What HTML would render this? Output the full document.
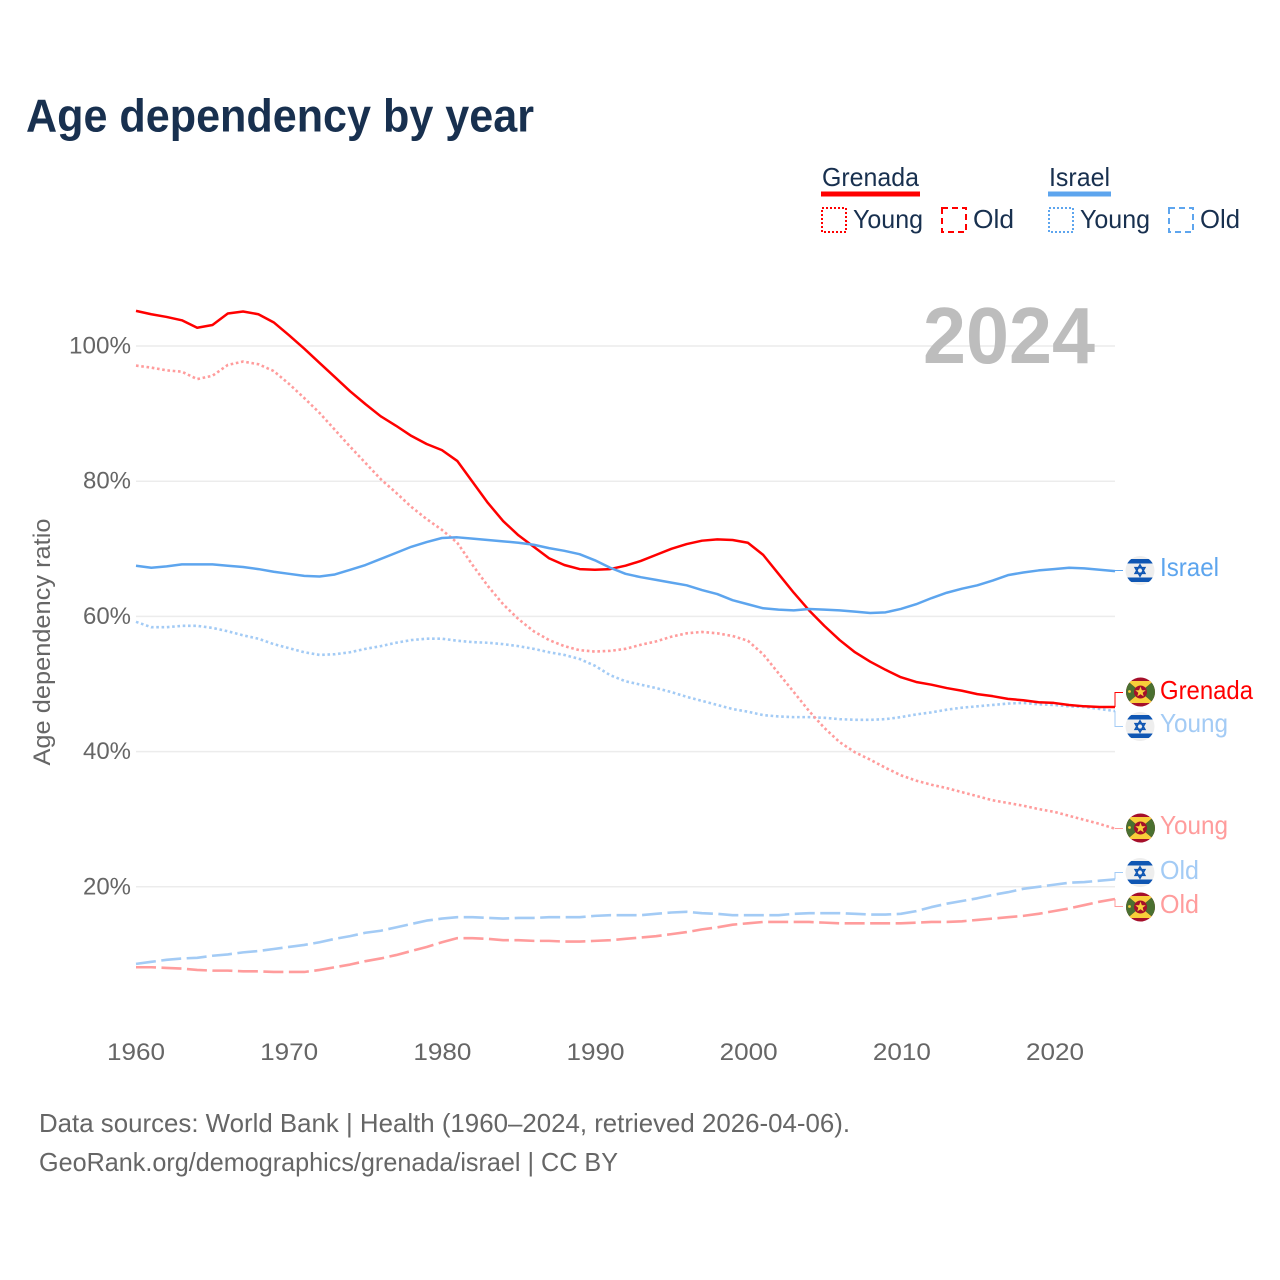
<!DOCTYPE html>
<html lang="en">
<head>
<meta charset="utf-8">
<title>Age dependency by year</title>
<style>
html,body{margin:0;padding:0;background:#fff;}
svg{display:block;font-family:"Liberation Sans",sans-serif;}
</style>
</head>
<body>
<svg id="chart" width="1280" height="1280" viewBox="0 0 1280 1280" xmlns="http://www.w3.org/2000/svg">
<defs>
<clipPath id="flagclip"><circle cx="0" cy="0" r="14.5"/></clipPath>
<symbol id="flag-il" overflow="visible" viewBox="-15 -15 30 30">
<g clip-path="url(#flagclip)">
<rect x="-15" y="-15" width="30" height="30" fill="#eeeeee"/>
<rect x="-15" y="-11.5" width="30" height="4.5" fill="#0f56b3"/>
<rect x="-15" y="7" width="30" height="4.5" fill="#0f56b3"/>
<polygon points="0,-5.6 4.8,2.8 -4.8,2.8" fill="none" stroke="#0f56b3" stroke-width="1.6"/>
<polygon points="0,5.6 4.8,-2.8 -4.8,-2.8" fill="none" stroke="#0f56b3" stroke-width="1.6"/>
</g>
</symbol>
<symbol id="flag-gd" overflow="visible" viewBox="-15 -15 30 30">
<g clip-path="url(#flagclip)">
<rect x="-15" y="-15" width="30" height="30" fill="#a50f2a"/>
<polygon points="-13,-11 13,-11 0,0" fill="#f8cf3a"/>
<polygon points="-13,11 13,11 0,0" fill="#f8cf3a"/>
<polygon points="-15,-11 -13,-11 0,0 -13,11 -15,11" fill="#4a7030"/>
<polygon points="15,-11 13,-11 0,0 13,11 15,11" fill="#4a7030"/>
<circle cx="0" cy="0" r="6.5" fill="#a50f2a"/>
<polygon points="0,-5.4 1.4,-1.8 5.2,-1.7 2.2,0.7 3.2,4.4 0,2.3 -3.2,4.4 -2.2,0.7 -5.2,-1.7 -1.4,-1.8" fill="#f8cf3a"/>
<circle cx="-11" cy="-0.5" r="1.4" fill="#f8cf3a"/>
</g>
</symbol>
</defs>

<text x="26" y="131.5" font-size="46" font-weight="700" fill="#18304f" textLength="508" lengthAdjust="spacingAndGlyphs">Age dependency by year</text>

<g id="grid"></g>
<g id="yticks"></g>
<g id="xticks"></g>
<text transform="translate(50,642) rotate(-90)" text-anchor="middle" font-size="24" fill="#666666" textLength="247" lengthAdjust="spacingAndGlyphs">Age dependency ratio</text>

<text x="923" y="363" font-size="80" font-weight="700" fill="#bdbdbd" textLength="172" lengthAdjust="spacingAndGlyphs">2024</text>

<g id="connectors"></g>
<g id="lines"></g>

<g>
<use href="#flag-il" x="1125" y="555.5" width="30" height="30"/>
<text x="1160" y="576" font-size="26" fill="#5da5ee" textLength="59" lengthAdjust="spacingAndGlyphs">Israel</text>
<use href="#flag-gd" x="1125.5" y="677" width="30" height="30"/>
<text x="1160" y="699" font-size="26" fill="#ff0000" textLength="93" lengthAdjust="spacingAndGlyphs">Grenada</text>
<use href="#flag-il" x="1125" y="711.5" width="30" height="30"/>
<text x="1160" y="732" font-size="26" fill="#a3cbf5" textLength="68" lengthAdjust="spacingAndGlyphs">Young</text>
<use href="#flag-gd" x="1125.5" y="813" width="30" height="30"/>
<text x="1160" y="834" font-size="26" fill="#ff9c9c" textLength="68" lengthAdjust="spacingAndGlyphs">Young</text>
<use href="#flag-il" x="1125" y="857.5" width="30" height="30"/>
<text x="1160" y="879" font-size="26" fill="#a3cbf5" textLength="39" lengthAdjust="spacingAndGlyphs">Old</text>
<use href="#flag-gd" x="1125.5" y="892" width="30" height="30"/>
<text x="1160" y="913" font-size="26" fill="#ff9c9c" textLength="39" lengthAdjust="spacingAndGlyphs">Old</text>
</g>

<g font-size="26" fill="#18304f">
<text x="822" y="186" textLength="97" lengthAdjust="spacingAndGlyphs">Grenada</text>
<rect x="821" y="191.5" width="99" height="5" fill="#ff0000"/>
<text x="1049" y="186" textLength="61" lengthAdjust="spacingAndGlyphs">Israel</text>
<rect x="1048" y="191.5" width="63" height="5" fill="#5da5ee"/>
<rect x="822" y="208" width="24" height="24" fill="none" stroke="#ff0000" stroke-width="2" stroke-dasharray="2 2"/>
<text x="853" y="228" textLength="70" lengthAdjust="spacingAndGlyphs">Young</text>
<rect x="942" y="208" width="24" height="24" fill="none" stroke="#ff0000" stroke-width="2" stroke-dasharray="6 4"/>
<text x="973" y="228" textLength="41" lengthAdjust="spacingAndGlyphs">Old</text>
<rect x="1049" y="208" width="24" height="24" fill="none" stroke="#5da5ee" stroke-width="2" stroke-dasharray="2 2"/>
<text x="1080" y="228" textLength="70" lengthAdjust="spacingAndGlyphs">Young</text>
<rect x="1169" y="208" width="24" height="24" fill="none" stroke="#5da5ee" stroke-width="2" stroke-dasharray="6 4"/>
<text x="1200" y="228" textLength="40" lengthAdjust="spacingAndGlyphs">Old</text>
</g>

<text x="39" y="1132" font-size="26" fill="#666666" textLength="811" lengthAdjust="spacingAndGlyphs">Data sources: World Bank | Health (1960–2024, retrieved 2026-04-06).</text>
<text x="39" y="1171" font-size="26" fill="#666666" textLength="579" lengthAdjust="spacingAndGlyphs">GeoRank.org/demographics/grenada/israel | CC BY</text>

<script>
var startYear = 1960;
var xTickYears = [1960, 1970, 1980, 1990, 2000, 2010, 2020];
var yTickValues = [20, 40, 60, 80, 100];

var grenadaTotal = [105.2,104.7,104.3,103.8,102.7,103.1,104.8,105.1,104.7,103.5,101.6,99.6,97.5,95.4,93.3,91.4,89.6,88.2,86.7,85.5,84.6,83,79.9,76.8,74.1,72,70.3,68.6,67.6,67,66.9,67,67.5,68.2,69.1,70,70.7,71.2,71.4,71.3,70.9,69.1,66.3,63.5,60.9,58.6,56.5,54.7,53.3,52.1,51,50.3,49.9,49.4,49,48.5,48.2,47.8,47.6,47.3,47.2,46.9,46.7,46.6,46.6];
var israelTotal = [67.5,67.2,67.4,67.7,67.7,67.7,67.5,67.3,67,66.6,66.3,66,65.9,66.2,66.9,67.6,68.5,69.4,70.3,71,71.6,71.7,71.5,71.3,71.1,70.9,70.6,70.1,69.7,69.2,68.3,67.2,66.3,65.8,65.4,65,64.6,63.9,63.3,62.4,61.8,61.2,61,60.9,61.1,61,60.9,60.7,60.5,60.6,61.1,61.8,62.7,63.5,64.1,64.6,65.3,66.1,66.5,66.8,67,67.2,67.1,66.9,66.7];
var grenadaYoung = [97.1,96.8,96.4,96.2,95.1,95.6,97.2,97.7,97.3,96.3,94.4,92.3,90.1,87.6,85.1,82.7,80.3,78.3,76.2,74.4,72.8,70.9,67.6,64.5,61.8,59.6,57.8,56.5,55.6,55,54.8,54.9,55.2,55.8,56.3,57,57.5,57.7,57.5,57.1,56.4,54.4,51.6,48.8,46,43.5,41.4,39.9,38.8,37.6,36.5,35.7,35.1,34.6,34,33.4,32.8,32.4,32,31.5,31.1,30.5,29.9,29.3,28.6];
var israelYoung = [59.2,58.4,58.4,58.6,58.6,58.3,57.8,57.2,56.7,55.9,55.3,54.7,54.3,54.4,54.7,55.2,55.6,56.1,56.5,56.7,56.7,56.4,56.2,56.1,55.9,55.6,55.2,54.7,54.3,53.7,52.7,51.3,50.4,49.9,49.4,48.8,48.1,47.5,46.9,46.3,45.9,45.4,45.2,45.1,45.1,45,44.8,44.7,44.7,44.8,45.1,45.5,45.8,46.2,46.5,46.7,46.9,47.1,47.2,47,46.9,46.7,46.6,46.3,46];
var israelOld = [8.6,8.9,9.2,9.4,9.5,9.8,10,10.3,10.5,10.8,11.1,11.4,11.8,12.3,12.7,13.2,13.5,14,14.5,15,15.3,15.5,15.5,15.4,15.3,15.4,15.4,15.5,15.5,15.5,15.7,15.8,15.8,15.8,16,16.2,16.3,16.1,16,15.8,15.8,15.8,15.8,16,16.1,16.1,16.1,16,15.9,15.9,16,16.4,17,17.5,17.9,18.3,18.8,19.2,19.7,20,20.3,20.6,20.7,20.9,21.1];
var grenadaOld = [8.1,8.1,8,7.9,7.7,7.6,7.6,7.5,7.5,7.4,7.4,7.4,7.7,8.1,8.5,9,9.4,9.9,10.5,11.1,11.8,12.4,12.4,12.3,12.1,12.1,12,12,11.9,11.9,12,12.1,12.3,12.5,12.7,13,13.3,13.7,14,14.4,14.6,14.8,14.8,14.8,14.8,14.7,14.6,14.6,14.6,14.6,14.6,14.7,14.8,14.8,14.9,15.1,15.3,15.5,15.7,16,16.4,16.8,17.3,17.8,18.2];

var NS = 'http://www.w3.org/2000/svg';
function xScale(year) { return 136 + (year - 1960) * (1115 - 136) / 64; }
function yScale(v) { return 1022 - v * 6.76; }
function make(tag, parentId) {
  var el = document.createElementNS(NS, tag);
  document.getElementById(parentId).appendChild(el);
  return el;
}

yTickValues.forEach(function (v) {
  var line = make('line', 'grid');
  
  
  line.setAttribute('x1', 136);
  line.setAttribute('x2', 1115);
  line.setAttribute('y1', yScale(v));
  line.setAttribute('y2', yScale(v));
  line.setAttribute('stroke', '#ececec');
  line.setAttribute('stroke-width', '1.5');

  var label = make('text', 'yticks');
  
  
  label.setAttribute('x', 131);
  label.setAttribute('y', yScale(v) + 7.5);
  label.setAttribute('text-anchor', 'end');
  label.setAttribute('font-size', '24');
  label.setAttribute('fill', '#666666');
  label.setAttribute('textLength', v === 100 ? 62 : 48);
  label.setAttribute('lengthAdjust', 'spacingAndGlyphs');
  label.textContent = v + '%';
});

xTickYears.forEach(function (y) {
  var label = make('text', 'xticks');
  
  
  label.setAttribute('x', xScale(y) + (y - 1960) * 0.02);
  label.setAttribute('y', 1060);
  label.setAttribute('text-anchor', 'middle');
  label.setAttribute('font-size', '24');
  label.setAttribute('fill', '#666666');
  label.setAttribute('textLength', '58');
  label.setAttribute('lengthAdjust', 'spacingAndGlyphs');
  label.textContent = y;
});

function drawSeries(name, values, color, dash) {
  var d = values.map(function (v, i) {
    return (i ? 'L' : 'M') + xScale(startYear + i).toFixed(2) + ' ' + yScale(v).toFixed(2);
  }).join('');
  var path = make('path', 'lines');
  
  
  path.setAttribute('d', d);
  path.setAttribute('fill', 'none');
  path.setAttribute('stroke', color);
  path.setAttribute('stroke-width', dash ? '2.6' : '2.5');
  path.setAttribute('stroke-linejoin', 'round');
  if (dash) path.setAttribute('stroke-dasharray', dash);
}

function drawConnector(name, values, labelY, color) {
  var last = yScale(values[values.length - 1]);
  var c = make('path', 'connectors');
  
  
  c.setAttribute('d', 'M1115 ' + last.toFixed(2) + 'L1115 ' + labelY + 'L1123 ' + labelY);
  c.setAttribute('fill', 'none');
  c.setAttribute('stroke', color);
  c.setAttribute('stroke-width', '1');
}

drawConnector('israel-total', israelTotal, 570.5, '#5da5ee');
drawConnector('grenada-total', grenadaTotal, 692.5, '#ff0000');
drawConnector('israel-young', israelYoung, 726.5, '#a3cbf5');
drawConnector('grenada-young', grenadaYoung, 828.5, '#ff9c9c');
drawConnector('israel-old', israelOld, 872.5, '#a3cbf5');
drawConnector('grenada-old', grenadaOld, 906.5, '#ff9c9c');

drawSeries('israel-old', israelOld, '#a3cbf5', '20 5.5');
drawSeries('grenada-old', grenadaOld, '#ff9c9c', '20 5.5');
drawSeries('israel-young', israelYoung, '#a3cbf5', '2.6 2.7');
drawSeries('grenada-young', grenadaYoung, '#ff9c9c', '2.6 2.7');
drawSeries('grenada-total', grenadaTotal, '#ff0000', null);
drawSeries('israel-total', israelTotal, '#5da5ee', null);
</script>
</svg>
</body>
</html>
